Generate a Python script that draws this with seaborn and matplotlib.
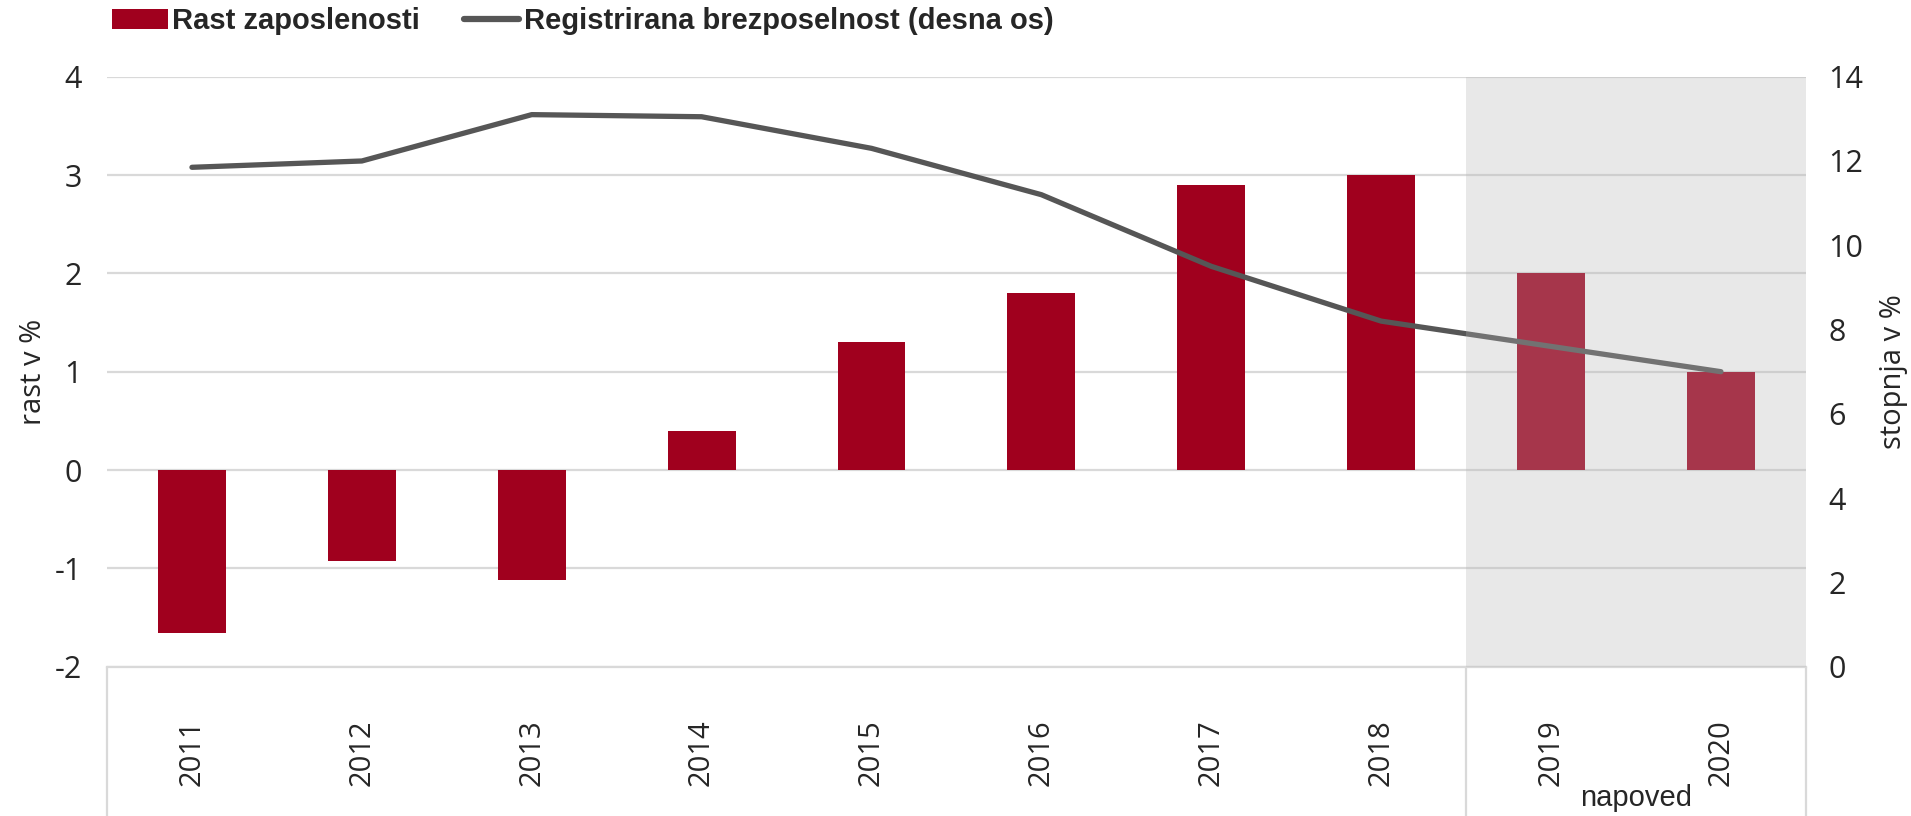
import numpy as np
import pandas as pd
import matplotlib
matplotlib.use("Agg")
import matplotlib.pyplot as plt
import matplotlib.transforms as mtrans
from matplotlib.patches import Patch
from matplotlib.lines import Line2D
import seaborn as sns

# ---- data ----
years = ["2011", "2012", "2013", "2014", "2015", "2016", "2017", "2018", "2019", "2020"]
employment_growth = [-1.66, -0.93, -1.12, 0.4, 1.3, 1.8, 2.9, 3.0, 2.0, 1.0]
unemployment_rate = [11.85, 12.0, 13.1, 13.05, 12.3, 11.2, 9.5, 8.2, 7.6, 7.0]
forecast_years = ["2019", "2020"]
left_ticks = [-2, -1, 0, 1, 2, 3, 4]
right_ticks = [0, 2, 4, 6, 8, 10, 12, 14]
bar_label = "Rast zaposlenosti"
line_label = "Registrirana brezposelnost (desna os)"
left_axis_label = "rast v %"
right_axis_label = "stopnja v %"
forecast_label = "napoved"

RED = "#A0001E"
LINE = "#565656"
GRID = "#D9D9D9"

sns.set_theme(style="white")
plt.rcParams["font.family"] = ["Open Sans", "DejaVu Sans"]
plt.rcParams["axes.unicode_minus"] = False
NARROW = ["Liberation Sans Narrow", "Liberation Sans", "DejaVu Sans"]

fig = plt.figure(figsize=(19.11, 8.16), dpi=100)
ax = fig.add_axes([0.056, 0.183, 0.889, 0.723])

df = pd.DataFrame({"leto": years, "rast": employment_growth,
                   "stopnja": unemployment_rate})
df["pos"] = np.arange(len(df))

sns.barplot(data=df, x="leto", y="rast", color=RED, width=0.4, saturation=1,
            ax=ax, zorder=2, linewidth=0)
ax.set_xlim(-0.5, len(years) - 0.5)
ax.set_ylim(min(left_ticks), max(left_ticks))
ax.set_yticks(left_ticks)
ax.yaxis.grid(True, color=GRID, lw=1.6, zorder=0)
ax.set_axisbelow(True)
ax.set_xlabel("")
ax.set_ylabel(left_axis_label, fontsize=21)
ax.yaxis.set_label_coords(-0.035, 0.5)
ax.tick_params(axis="y", length=0, pad=18, labelsize=22)
ax.tick_params(axis="x", length=0, pad=38, labelsize=21, labelrotation=90)
for s in ["left", "right", "top"]:
    ax.spines[s].set_visible(False)
ax.spines["bottom"].set_color(GRID)
ax.spines["bottom"].set_linewidth(1.6)

ax2 = ax.twinx()
sns.lineplot(data=df, x="pos", y="stopnja", color=LINE, lw=3.8, ax=ax2,
             zorder=3, solid_capstyle="round")
ax2.set_ylim(min(right_ticks), max(right_ticks))
ax2.set_yticks(right_ticks)
ax2.set_xlim(-0.5, len(years) - 0.5)
ax2.set_ylabel(right_axis_label, fontsize=21)
ax2.yaxis.set_label_coords(1.043, 0.5)
ax2.tick_params(axis="y", length=0, pad=16, labelsize=22)
for s in ax2.spines.values():
    s.set_visible(False)

# forecast shading (overlay)
f0 = years.index(forecast_years[0])
f1 = years.index(forecast_years[-1])
ax2.axvspan(f0 - 0.5, f1 + 0.5, facecolor="#B6B6B6", alpha=0.3, lw=0, zorder=5)

# category separators below the axis
trans = mtrans.blended_transform_factory(ax.transData, ax.transAxes)
for xv in [-0.5, f0 - 0.5, len(years) - 0.5]:
    ax.plot([xv, xv], [0, -0.26], transform=trans, color=GRID, lw=1.6,
            clip_on=False)
ax.text((f0 + f1) / 2, -0.222, forecast_label, transform=trans, ha="center",
        va="center", fontsize=21, family=NARROW)

# legend
handles = [Patch(facecolor=RED, edgecolor="none"),
           Line2D([0], [0], color=LINE, lw=4.5)]
leg = fig.legend(handles, [bar_label, line_label], loc="upper left",
                 bbox_to_anchor=(0.055, 1.0), ncol=2, frameon=False,
                 borderpad=0.25, borderaxespad=0, handlelength=1.9,
                 handleheight=0.7, handletextpad=0.15, columnspacing=1.5,
                 prop={"family": NARROW, "weight": "bold", "size": 21})

fig.savefig("out.png", dpi=100)
